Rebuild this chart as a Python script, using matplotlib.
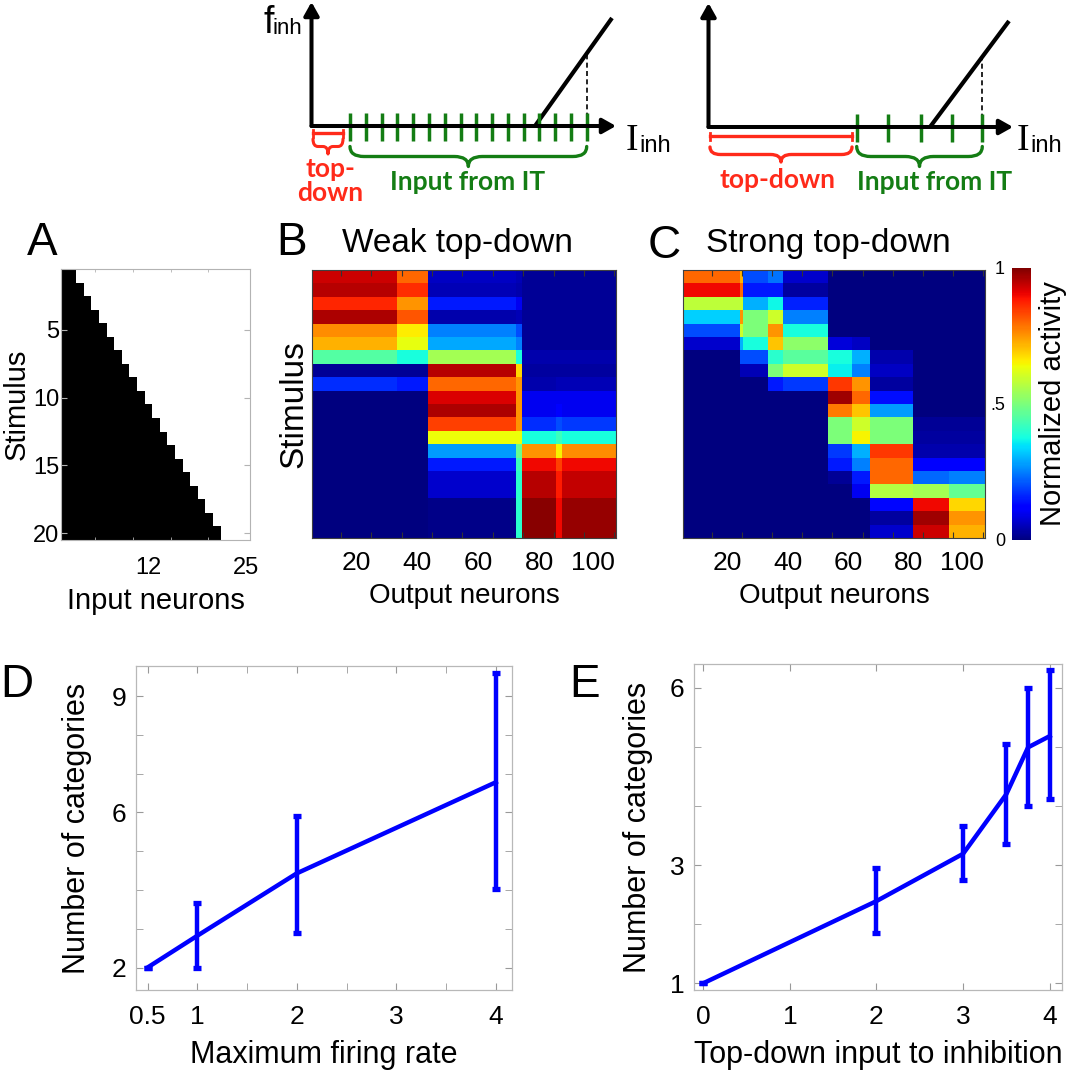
import numpy as np
import matplotlib
matplotlib.use('Agg')
import matplotlib.pyplot as plt
from matplotlib.path import Path
from matplotlib.patches import PathPatch

plt.rcParams['font.family'] = ['Liberation Sans', 'DejaVu Sans']

W, H = 1076, 1070

# Panel A: number of active input neurons for each stimulus
input_active = [2, 3, 4, 5, 6, 7, 8, 9, 10, 11, 12, 13, 14, 15, 16, 17, 18, 19, 20, 21]
n_inputs = 25

# Panel B (weak top-down): activity per group of output neurons, one row per stimulus
weak_edges = [0, 28, 38, 67, 69, 80, 82, 100]
weak_levels = [
    [0.93, 0.80, 0.06, 0.05, 0.02, 0.02, 0.02],
    [0.95, 0.86, 0.05, 0.04, 0.02, 0.02, 0.02],
    [0.87, 0.75, 0.15, 0.10, 0.02, 0.02, 0.02],
    [0.96, 0.82, 0.04, 0.05, 0.02, 0.02, 0.02],
    [0.76, 0.66, 0.25, 0.20, 0.02, 0.02, 0.02],
    [0.72, 0.63, 0.29, 0.25, 0.02, 0.02, 0.02],
    [0.45, 0.38, 0.55, 0.38, 0.04, 0.04, 0.04],
    [0.02, 0.02, 0.95, 0.68, 0.03, 0.03, 0.03],
    [0.17, 0.15, 0.80, 0.75, 0.04, 0.05, 0.05],
    [0.00, 0.00, 0.92, 0.75, 0.10, 0.10, 0.10],
    [0.00, 0.00, 0.96, 0.75, 0.10, 0.12, 0.10],
    [0.00, 0.00, 0.84, 0.75, 0.17, 0.20, 0.18],
    [0.00, 0.00, 0.64, 0.64, 0.38, 0.42, 0.38],
    [0.00, 0.00, 0.28, 0.48, 0.75, 0.65, 0.76],
    [0.00, 0.00, 0.15, 0.42, 0.90, 0.84, 0.90],
    [0.00, 0.00, 0.07, 0.40, 0.95, 0.88, 0.94],
    [0.00, 0.00, 0.07, 0.40, 0.95, 0.88, 0.94],
    [0.00, 0.00, 0.01, 0.40, 0.99, 0.90, 0.98],
    [0.00, 0.00, 0.01, 0.40, 0.99, 0.90, 0.98],
    [0.00, 0.00, 0.01, 0.40, 0.99, 0.90, 0.98],
]

# Panel C (strong top-down)
strong_edges = [0, 19, 20, 28, 33, 48, 56, 62, 76, 88, 100]
strong_levels = [
    [0.80, 0.72, 0.20, 0.24, 0.07, 0.00, 0.00, 0.00, 0.00, 0.00],
    [0.90, 0.80, 0.15, 0.15, 0.03, 0.00, 0.00, 0.00, 0.00, 0.00],
    [0.58, 0.60, 0.30, 0.37, 0.16, 0.00, 0.00, 0.00, 0.00, 0.00],
    [0.33, 0.75, 0.50, 0.60, 0.25, 0.00, 0.00, 0.00, 0.00, 0.00],
    [0.20, 0.60, 0.50, 0.75, 0.38, 0.00, 0.00, 0.00, 0.00, 0.00],
    [0.07, 0.30, 0.38, 0.70, 0.52, 0.08, 0.06, 0.00, 0.00, 0.00],
    [0.00, 0.20, 0.20, 0.40, 0.46, 0.38, 0.30, 0.04, 0.00, 0.00],
    [0.00, 0.05, 0.05, 0.50, 0.60, 0.36, 0.25, 0.06, 0.00, 0.00],
    [0.00, 0.00, 0.00, 0.15, 0.18, 0.85, 0.75, 0.03, 0.00, 0.00],
    [0.00, 0.00, 0.00, 0.00, 0.00, 0.97, 0.80, 0.14, 0.00, 0.00],
    [0.00, 0.00, 0.00, 0.00, 0.00, 0.78, 0.70, 0.28, 0.00, 0.00],
    [0.00, 0.00, 0.00, 0.00, 0.00, 0.50, 0.60, 0.50, 0.02, 0.02],
    [0.00, 0.00, 0.00, 0.00, 0.00, 0.50, 0.65, 0.50, 0.03, 0.03],
    [0.00, 0.00, 0.00, 0.00, 0.00, 0.18, 0.30, 0.85, 0.04, 0.04],
    [0.00, 0.00, 0.00, 0.00, 0.00, 0.15, 0.25, 0.80, 0.12, 0.12],
    [0.00, 0.00, 0.00, 0.00, 0.00, 0.02, 0.15, 0.80, 0.23, 0.25],
    [0.00, 0.00, 0.00, 0.00, 0.00, 0.00, 0.10, 0.57, 0.55, 0.47],
    [0.00, 0.00, 0.00, 0.00, 0.00, 0.00, 0.00, 0.13, 0.90, 0.68],
    [0.00, 0.00, 0.00, 0.00, 0.00, 0.00, 0.00, 0.03, 0.97, 0.75],
    [0.00, 0.00, 0.00, 0.00, 0.00, 0.00, 0.00, 0.07, 0.93, 0.72],
]

# Panel D: number of categories vs maximum firing rate
rate_x = [0.5, 1, 2, 4]
rate_mean = [2.0, 2.82, 4.43, 6.78]
rate_lo = [2.0, 2.0, 2.89, 4.02]
rate_hi = [2.0, 3.66, 5.92, 9.59]

# Panel E: number of categories vs top-down input
td_x = [0, 2, 3, 3.5, 3.75, 4]
td_mean = [1.0, 2.39, 3.19, 4.20, 4.99, 5.18]
td_lo = [1.0, 1.85, 2.75, 3.36, 4.00, 4.11]
td_hi = [1.0, 2.95, 3.66, 5.05, 6.00, 6.30]

# Schematic (figure pixel units): transfer function of the inhibitory unit
left_origin, left_x_end, left_y_end = (313, 126), 616, 2
left_ramp = [(535, 126), (612, 18)]
left_dash_top = 55
left_topdown = (313, 343)
left_it_ticks = [350.0, 365.8, 381.6, 397.3, 413.1, 428.9, 444.7, 460.5,
                 476.2, 492.0, 507.8, 523.6, 539.4, 555.1, 570.9, 586.7]
right_origin, right_x_end, right_y_end = (710, 127), 1013, 3
right_ramp = [(930, 127), (1009, 21)]
right_dash_top = 57
right_topdown = (710, 852)
right_it_ticks = [856.7, 888.3, 920.7, 951.7, 982.3]

RED = '#ff2a1a'
GREEN = '#147d14'
BLUE = '#0000ff'

fig = plt.figure(figsize=(W / 100, H / 100), dpi=100)


def px_axes(x0, y0, x1, y1):
    return fig.add_axes([x0 / W, 1 - y1 / H, (x1 - x0) / W, (y1 - y0) / H])


def brace(ax, x0, x1, ytop, depth, color, lw):
    xm = (x0 + x1) / 2
    ym = ytop + depth * 0.5
    r = min(depth * 0.7, (x1 - x0) / 6)
    verts = [(x0, ytop), (x0, ym), (x0 + r, ym), (xm - r, ym), (xm, ym), (xm, ytop + depth),
             (xm, ym), (xm + r, ym), (x1 - r, ym), (x1, ym), (x1, ytop)]
    codes = [Path.MOVETO, Path.CURVE3, Path.CURVE3, Path.LINETO, Path.CURVE3, Path.CURVE3,
             Path.CURVE3, Path.CURVE3, Path.LINETO, Path.CURVE3, Path.CURVE3]
    ax.add_patch(PathPatch(Path(verts, codes), fill=False, edgecolor=color, lw=lw,
                           capstyle='round', joinstyle='round'))


def arrow(ax, start, end):
    ax.annotate('', xy=end, xytext=start,
                arrowprops=dict(arrowstyle='-|>,head_length=0.8,head_width=0.45',
                                lw=2.9, color='k', shrinkA=0, shrinkB=0))


# ---------------- schematic overlay ----------------
ax_s = fig.add_axes([0, 0, 1, 1])
ax_s.set_xlim(0, W)
ax_s.set_ylim(H, 0)
ax_s.axis('off')

for origin, x_end, y_end, ramp, dash_top, td, ticks in [
        (left_origin, left_x_end, left_y_end, left_ramp, left_dash_top, left_topdown, left_it_ticks),
        (right_origin, right_x_end, right_y_end, right_ramp, right_dash_top, right_topdown, right_it_ticks)]:
    ox, oy = origin
    arrow(ax_s, (ox - 1.5, oy), (ox - 1.5, y_end))
    arrow(ax_s, (ox - 1.5, oy), (x_end, oy))
    ax_s.plot([ramp[0][0], ramp[1][0]], [ramp[0][1], ramp[1][1]], color='k', lw=3.0,
              solid_capstyle='butt')
    ax_s.plot([ticks[-1], ticks[-1]], [oy, dash_top], color='k', lw=1.2, ls=(0, (3, 2)))
    for t in ticks:
        ax_s.plot([t, t], [oy - 13, oy + 15], color=GREEN, lw=2.5, solid_capstyle='butt')
    # red bar with end caps for the top-down input
    ybar = oy + 7 if ticks is left_it_ticks else oy + 9
    ax_s.plot([td[0], td[1]], [ybar, ybar], color=RED, lw=2.4)
    for xe in td:
        ax_s.plot([xe, xe], [ybar - 3.5, ybar + 3.5], color=RED, lw=2.0)

brace(ax_s, left_topdown[0], left_topdown[1], 139, 15, RED, 2.2)
brace(ax_s, left_it_ticks[0], left_it_ticks[-1], 146.5, 20, GREEN, 2.4)
brace(ax_s, right_topdown[0], right_topdown[1], 147, 15, RED, 2.4)
brace(ax_s, right_it_ticks[0], right_it_ticks[-1], 146.5, 20, GREEN, 2.4)

bold = dict(family=['Lato', 'DejaVu Sans'], fontweight='bold', fontsize=19, ha='center', va='center')
ax_s.text(330, 181, 'top-\ndown', color=RED, linespacing=1.0, **bold)
ax_s.text(468, 182, 'Input from IT', color=GREEN, **bold)
ax_s.text(777, 180, 'top-down', color=RED, **bold)
ax_s.text(935, 182, 'Input from IT', color=GREEN, **bold)

ax_s.text(263, 33, 'f', fontsize=27, va='baseline')
ax_s.text(272, 34, 'inh', fontsize=16, va='baseline')
for xi in (626, 1017):
    ax_s.text(xi, 150, 'I', fontsize=27, va='baseline', family=['Liberation Serif', 'DejaVu Serif'])
    ax_s.text(xi + 13, 152, 'inh', fontsize=17, va='baseline')

# panel letters and titles
ax_s.text(27, 255, 'A', fontsize=33, va='baseline')
ax_s.text(276, 255, 'B', fontsize=33, va='baseline')
ax_s.text(342, 252, 'Weak top-down', fontsize=24, va='baseline')
ax_s.text(648, 258, 'C', fontsize=33, va='baseline')
ax_s.text(706, 252, 'Strong top-down', fontsize=24, va='baseline')
ax_s.text(0, 697, 'D', fontsize=33, va='baseline')
ax_s.text(569, 697, 'E', fontsize=33, va='baseline')

# ---------------- panel A ----------------
axA = px_axes(61, 269, 250, 540)
pattern = np.zeros((len(input_active), n_inputs))
for i, n in enumerate(input_active):
    pattern[i, :n] = 1
axA.imshow(pattern, cmap='gray_r', vmin=0, vmax=1, aspect='auto', interpolation='nearest',
           extent=(0.5, n_inputs + 0.5, len(input_active) + 0.5, 0.5))
axA.set_yticks([5, 10, 15, 20])
axA.set_xticks([12, 25])
axA.set_xticks([5, 10, 15, 20, 25], minor=True)
axA.tick_params(which='both', direction='in', top=True, right=True, color='0.7', labelsize=17)
axA.tick_params(which='major', axis='x', length=0, pad=12)
axA.tick_params(which='major', axis='y', length=4, pad=1)
axA.set_xlabel('Input neurons', fontsize=21, labelpad=6)
axA.set_ylabel('Stimulus', fontsize=21, labelpad=2)
for s in axA.spines.values():
    s.set_color('0.7')

# ---------------- panels B and C ----------------
def heatmap(ax, levels, edges):
    mat = np.repeat(np.array(levels), np.diff(edges), axis=1)
    im = ax.imshow(mat, cmap='jet', vmin=0, vmax=1, aspect='auto', interpolation='nearest',
                   extent=(0.5, edges[-1] + 0.5, len(levels) + 0.5, 0.5))
    ax.set_yticks([])
    ax.set_xticks(range(10, 101, 10))
    ax.set_xticklabels(['' if v % 20 else str(v) for v in range(10, 101, 10)], ha='right')
    ax.tick_params(axis='x', direction='in', top=True, length=4, color='0.2', labelsize=19, pad=9)
    ax.set_xlabel('Output neurons', fontsize=20, labelpad=6)
    for s in ax.spines.values():
        s.set_color('0.25')
    return im


axB = px_axes(312, 270, 616, 538)
heatmap(axB, weak_levels, weak_edges)
axB.set_ylabel('Stimulus', fontsize=24, labelpad=2)

axC = px_axes(683, 270, 985, 538)
im = heatmap(axC, strong_levels, strong_edges)

cax = px_axes(1012, 268, 1031, 540)
cb = fig.colorbar(im, cax=cax, ticks=[0, 0.5, 1])
cb.outline.set_visible(False)
cax.yaxis.set_ticks_position('left')
cax.set_yticklabels(['0', '.5', '1'])
cax.tick_params(length=0, labelsize=13, pad=5)
cax.yaxis.set_label_position('right')
cax.set_ylabel('Normalized activity', fontsize=21, labelpad=6)

# ---------------- panels D and E ----------------
def style_line_axes(ax):
    for s in ax.spines.values():
        s.set_color('0.72')
        s.set_linewidth(0.9)
    ax.tick_params(which='both', direction='in', top=True, right=True, color='0.6',
                   labelsize=19, length=5)
    ax.tick_params(axis='x', pad=11)
    ax.tick_params(axis='y', pad=7)


def err_plot(ax, x, mean, lo, hi):
    mean = np.array(mean)
    yerr = [mean - np.array(lo), np.array(hi) - mean]
    ax.errorbar(x, mean, yerr=yerr, color=BLUE, lw=3.2, elinewidth=3.2,
                capsize=2.6, capthick=3.8)


axD = px_axes(136, 666, 512, 990)
err_plot(axD, rate_x, rate_mean, rate_lo, rate_hi)
axD.set_xlim(0.384, 4.163)
axD.set_ylim(1.42, 9.78)
axD.set_xticks([0.5, 1, 2, 3, 4])
axD.set_xticklabels(['0.5', '1', '2', '3', '4'])
axD.set_xticks([1.5, 2.5, 3.5], minor=True)
axD.set_yticks([2, 6, 9])
axD.set_yticks([3, 4, 5, 7, 8], minor=True)
style_line_axes(axD)
axD.set_xlabel('Maximum firing rate', fontsize=22, labelpad=8)
axD.set_ylabel('Number of categories', fontsize=22, labelpad=14)

axE = px_axes(694, 664, 1062, 990)
err_plot(axE, td_x, td_mean, td_lo, td_hi)
axE.set_xlim(-0.107, 4.142)
axE.set_ylim(0.886, 6.40)
axE.set_xticks([0, 1, 2, 3, 4])
axE.set_yticks([1, 3, 6])
axE.set_yticks([2, 4, 5], minor=True)
style_line_axes(axE)
axE.set_xlabel('Top-down input to inhibition', fontsize=22, labelpad=8)
axE.set_ylabel('Number of categories', fontsize=22, labelpad=12)

fig.savefig('out.png', dpi=100)
